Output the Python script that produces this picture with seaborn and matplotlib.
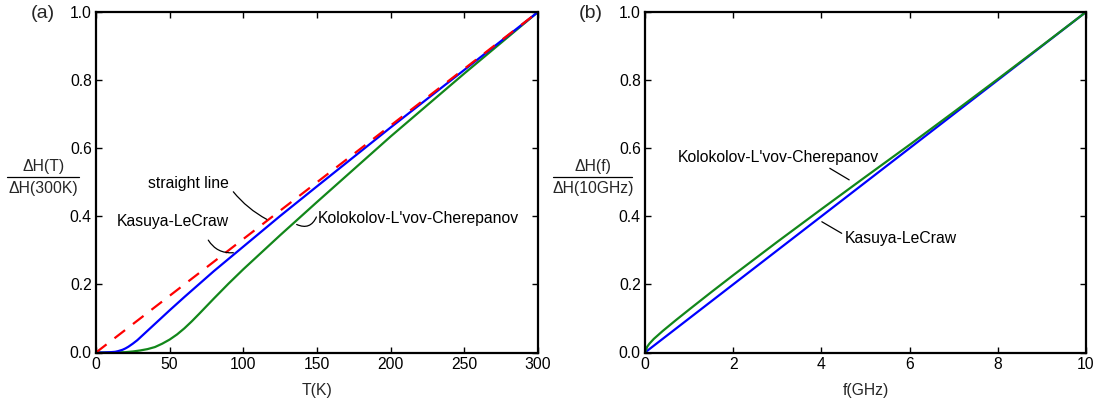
import numpy as np
import pandas as pd
import matplotlib
matplotlib.use("Agg")
import matplotlib.pyplot as plt
from matplotlib.lines import Line2D
import seaborn as sns

# ---- panel (a): normalised linewidth vs temperature ----
T_line = [0, 300]
line_vals = [0.0, 1.0]

T_kl = [0, 5, 10, 13, 15, 18, 20, 22, 25, 28, 30, 35, 40, 50, 60, 70, 80, 100, 125, 150, 200, 250, 300]
kasuya_T = [0.0, 0.0, 0.001, 0.002, 0.004, 0.008, 0.012, 0.017, 0.026, 0.036, 0.044, 0.064,
            0.084, 0.124, 0.163, 0.201, 0.239, 0.311, 0.401, 0.488, 0.661, 0.830, 1.0]

T_klc = [0, 10, 20, 25, 30, 35, 40, 45, 50, 55, 60, 65, 70, 75, 80, 90, 100, 125, 150, 200, 250, 300]
klc_T = [0.0, 0.0, 0.001, 0.003, 0.006, 0.010, 0.016, 0.026, 0.038, 0.053, 0.071, 0.0915,
         0.1135, 0.136, 0.1585, 0.2025, 0.2445, 0.3445, 0.442, 0.6345, 0.8195, 1.0]

# ---- panel (b): normalised linewidth vs frequency ----
f_kl = [0, 2, 4, 6, 8, 10]
kasuya_f = [0.0, 0.2, 0.4, 0.6, 0.8, 1.0]

f_klc = [0, 0.05, 0.1, 0.2, 0.4, 0.7, 1, 1.5, 2, 3, 4, 5, 6, 7, 8, 9, 10]
klc_f = [0.0, 0.017, 0.026, 0.040, 0.063, 0.095, 0.126, 0.177, 0.227, 0.325, 0.421,
         0.516, 0.610, 0.706, 0.803, 0.901, 1.0]

x_ticks_a = [0, 50, 100, 150, 200, 250, 300]
x_ticks_b = [0, 2, 4, 6, 8, 10]
y_ticks = [0.0, 0.2, 0.4, 0.6, 0.8, 1.0]

BLUE = "#0000ff"
GREEN = "#12871a"
RED = "#ff0000"
FS = 11.3

sns.set_theme(style="ticks")
plt.rcParams["font.family"] = ["Liberation Sans", "DejaVu Sans"]
plt.rcParams.update({
    "axes.linewidth": 1.6,
    "xtick.direction": "in",
    "ytick.direction": "in",
    "xtick.top": True,
    "ytick.right": True,
    "xtick.major.size": 4,
    "ytick.major.size": 4,
    "xtick.major.width": 1.0,
    "ytick.major.width": 1.0,
    "xtick.labelsize": FS,
    "ytick.labelsize": FS,
    "xtick.major.pad": 3,
    "ytick.major.pad": 3,
    "axes.edgecolor": "black",
    "xtick.color": "black",
    "ytick.color": "black",
})

W, H = 1105, 403
fig = plt.figure(figsize=(W / 100, H / 100), dpi=100)
ax_a = fig.add_axes([96 / W, 1 - 352.5 / H, 442 / W, 340.5 / H])
ax_b = fig.add_axes([645 / W, 1 - 352.5 / H, 441 / W, 340.5 / H])

df_line = pd.DataFrame({"T": T_line, "v": line_vals})
df_kt = pd.DataFrame({"T": T_kl, "v": kasuya_T})
df_ct = pd.DataFrame({"T": T_klc, "v": klc_T})
sns.lineplot(data=df_ct, x="T", y="v", ax=ax_a, color=GREEN, lw=1.6, sort=False)
sns.lineplot(data=df_kt, x="T", y="v", ax=ax_a, color=BLUE, lw=1.6, sort=False)
sns.lineplot(data=df_line, x="T", y="v", ax=ax_a, color=RED, lw=1.6, sort=False,
             dashes=False, linestyle=(0, (6, 4.5)))

df_kf = pd.DataFrame({"f": f_kl, "v": kasuya_f})
df_cf = pd.DataFrame({"f": f_klc, "v": klc_f})
sns.lineplot(data=df_kf, x="f", y="v", ax=ax_b, color=BLUE, lw=1.6, sort=False)
sns.lineplot(data=df_cf, x="f", y="v", ax=ax_b, color=GREEN, lw=1.6, sort=False)

for ax, xt, xlab in [(ax_a, x_ticks_a, "T(K)"), (ax_b, x_ticks_b, "f(GHz)")]:
    ax.set_xlim(xt[0], xt[-1])
    ax.set_ylim(0, 1)
    ax.set_xticks(xt)
    ax.set_xticklabels([str(t) for t in xt])
    ax.set_yticks(y_ticks)
    ax.set_yticklabels([f"{t:.1f}" for t in y_ticks])
    ax.set_xlabel(xlab, fontsize=FS, labelpad=8)
    ax.set_ylabel("")
    for s in ax.spines.values():
        s.set_linewidth(1.6)

txt = dict(fontsize=FS, color="black")
lead = dict(arrowstyle="-", color="black", lw=0.9, shrinkA=0, shrinkB=0)

# panel (a) labels with leader lines
ax_a.text(63.0, 0.497, "straight line", ha="center", va="center", **txt)
ax_a.annotate("", xy=(115.9, 0.391), xytext=(93.2, 0.472),
              arrowprops=dict(connectionstyle="arc3,rad=0.1", **lead))
ax_a.text(51.9, 0.386, "Kasuya-LeCraw", ha="center", va="center", **txt)
ax_a.annotate("", xy=(93.2, 0.293), xytext=(76.2, 0.330),
              arrowprops=dict(connectionstyle="arc3,rad=0.3", **lead))
ax_a.text(150.5, 0.394, "Kolokolov-L'vov-Cherepanov", ha="left", va="center", **txt)
ax_a.annotate("", xy=(149.6, 0.398), xytext=(136.2, 0.376),
              arrowprops=dict(connectionstyle="arc3,rad=0.5", **lead))

# panel (b) labels with leader lines
ax_b.text(3.02, 0.573, "Kolokolov-L'vov-Cherepanov", ha="center", va="center", **txt)
ax_b.annotate("", xy=(4.63, 0.507), xytext=(4.19, 0.541), arrowprops=dict(**lead))
ax_b.text(4.54, 0.335, "Kasuya-LeCraw", ha="left", va="center", **txt)
ax_b.annotate("", xy=(4.46, 0.350), xytext=(4.01, 0.384), arrowprops=dict(**lead))

# panel tags
fig.text(43 / W, 1 - 13 / H, "(a)", ha="center", va="center", fontsize=14)
fig.text(591 / W, 1 - 13 / H, "(b)", ha="center", va="center", fontsize=14)

# fractional y-axis labels
def frac_label(xc, x0, x1, num, den):
    fig.text(xc / W, 1 - 166 / H, num, ha="center", va="center", fontsize=FS)
    fig.text(xc / W, 1 - 189 / H, den, ha="center", va="center", fontsize=FS)
    fig.add_artist(Line2D([x0 / W, x1 / W], [1 - 177 / H, 1 - 177 / H],
                          transform=fig.transFigure, color="black", lw=0.9))

frac_label(43.5, 7, 79, "ΔH(T)", "ΔH(300K)")
frac_label(593, 553, 632, "ΔH(f)", "ΔH(10GHz)")

fig.savefig("out.png", dpi=100)
